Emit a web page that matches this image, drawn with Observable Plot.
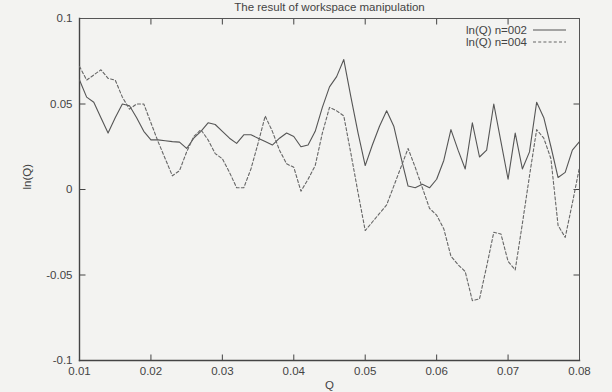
<!DOCTYPE html>
<html>
<head>
<meta charset="utf-8">
<script src="https://cdn.jsdelivr.net/npm/d3@7"></script>
<script src="https://cdn.jsdelivr.net/npm/@observablehq/plot@0.6"></script>
<style>
  html, body { margin: 0; padding: 0; background: #f3f3f1; overflow: hidden; }
  #wrap { position: relative; width: 612px; height: 392px; font-family: "Liberation Sans", Arial, sans-serif; }
  #legend { position: absolute; left: 0; top: 0; width: 612px; height: 60px; pointer-events: none; }
</style>
</head>
<body>
<div id="wrap"></div>
<script>
const title = "The result of workspace manipulation";
const xLabel = "Q";
const yLabel = "ln(Q)";
const seriesNames = ["ln(Q) n=002", "ln(Q) n=004"];

const Q = [0.010,0.011,0.012,0.013,0.014,0.015,0.016,0.017,0.018,0.019,
           0.020,0.021,0.022,0.023,0.024,0.025,0.026,0.027,0.028,0.029,
           0.030,0.031,0.032,0.033,0.034,0.035,0.036,0.037,0.038,0.039,
           0.040,0.041,0.042,0.043,0.044,0.045,0.046,0.047,0.048,0.049,
           0.050,0.051,0.052,0.053,0.054,0.055,0.056,0.057,0.058,0.059,
           0.060,0.061,0.062,0.063,0.064,0.065,0.066,0.067,0.068,0.069,
           0.070,0.071,0.072,0.073,0.074,0.075,0.076,0.077,0.078,0.079,0.080];

const n002 = [0.064,0.054,0.051,0.042,0.033,0.042,0.050,0.049,0.042,0.034,
              0.029,0.029,0.0285,0.028,0.0277,0.024,0.030,0.034,0.039,0.038,
              0.034,0.030,0.027,0.032,0.032,0.030,0.028,0.026,0.030,0.033,
              0.031,0.025,0.026,0.034,0.048,0.060,0.066,0.076,0.054,0.033,
              0.014,0.026,0.037,0.046,0.037,0.019,0.002,0.001,0.003,0.001,
              0.006,0.017,0.035,0.023,0.012,0.039,0.019,0.023,0.050,0.028,
              0.006,0.033,0.012,0.022,0.051,0.042,0.025,0.007,0.010,0.023,0.028];

const n004 = [0.072,0.064,0.067,0.070,0.065,0.064,0.054,0.047,0.050,0.050,
              0.039,0.028,0.018,0.008,0.011,0.022,0.031,0.035,0.029,0.021,
              0.018,0.010,0.001,0.001,0.012,0.027,0.043,0.034,0.023,0.015,
              0.013,-0.001,0.006,0.014,0.033,0.048,0.046,0.043,0.021,-0.002,
              -0.024,-0.019,-0.014,-0.009,0.002,0.013,0.024,0.013,0.001,-0.011,
              -0.015,-0.023,-0.039,-0.044,-0.048,-0.065,-0.064,-0.045,-0.025,-0.026,
              -0.042,-0.047,-0.020,0.008,0.035,0.030,0.018,-0.021,-0.028,-0.008,0.013];

const xTicks = [0.01,0.02,0.03,0.04,0.05,0.06,0.07,0.08];
const yTicks = [-0.1,-0.05,0,0.05,0.1];

const d002 = Q.map((q,i) => ({q, v: n002[i]}));
const d004 = Q.map((q,i) => ({q, v: n004[i]}));

const W = 612, H = 392;
const mL = 79, mR = 33, mT = 18, mB = 32;
const tk = 6;
const ink = "#444";
const fs = "11.5px";

const innerXTicks = xTicks.slice(1, -1);
const innerYTicks = yTicks.slice(1, -1);

// inward tick glyphs (custom symbols)
const tickSym = (dx, dy) => ({ draw(ctx) { ctx.moveTo(0, 0); ctx.lineTo(dx, dy); } });
const tickUp = tickSym(0, -tk), tickDown = tickSym(0, tk), tickRight = tickSym(tk, 0), tickLeft = tickSym(-tk, 0);

const chart = Plot.plot({
  width: W, height: H,
  marginLeft: mL, marginRight: mR, marginTop: mT, marginBottom: mB,
  style: { background: "transparent", fontFamily: "'Liberation Sans', Arial, sans-serif", fontSize: fs, color: ink, overflow: "visible" },
  x: { domain: [0.01, 0.08] },
  y: { domain: [-0.1, 0.1] },
  marks: [
    Plot.axisX(xTicks, { anchor: "bottom", tickSize: 0, tickPadding: 6, tickFormat: d => d.toString(), label: null, fill: ink, fontSize: fs }),
    Plot.axisY(yTicks, { anchor: "left", tickSize: 0, tickPadding: 7, tickFormat: d => d.toString(), label: null, fill: ink, fontSize: fs }),
    Plot.dot(innerXTicks, { x: d => d, y: -0.1, symbol: tickUp, stroke: ink, fill: "none", strokeWidth: 1 }),
    Plot.dot(innerXTicks, { x: d => d, y: 0.1, symbol: tickDown, stroke: ink, fill: "none", strokeWidth: 1 }),
    Plot.dot(innerYTicks, { x: 0.01, y: d => d, symbol: tickRight, stroke: ink, fill: "none", strokeWidth: 1 }),
    Plot.dot(innerYTicks, { x: 0.08, y: d => d, symbol: tickLeft, stroke: ink, fill: "none", strokeWidth: 1 }),
    Plot.frame({ stroke: "#555", strokeWidth: 1 }),
    Plot.frame({ anchor: "left", stroke: "#444", strokeWidth: 1.4 }),
    Plot.frame({ anchor: "bottom", stroke: "#444", strokeWidth: 1.4 }),
    Plot.line(d002, { x: "q", y: "v", stroke: "#555", strokeWidth: 1.1 }),
    Plot.line(d004, { x: "q", y: "v", stroke: "#666", strokeWidth: 1.1, strokeDasharray: "3,2.2" }),
    Plot.text([title], { text: d => d, frameAnchor: "top", lineAnchor: "bottom", dy: -8, fill: ink, fontSize: fs }),
    Plot.text([xLabel], { text: d => d, frameAnchor: "bottom", dy: 28, fill: ink, fontSize: fs }),
    Plot.text([yLabel], { text: d => d, frameAnchor: "left", dx: -52, rotate: -90, fill: ink, fontSize: fs })
  ]
});

const wrap = document.getElementById("wrap");
wrap.appendChild(chart);

// legend overlay
const ns = "http://www.w3.org/2000/svg";
const leg = document.createElementNS(ns, "svg");
leg.setAttribute("id", "legend");
leg.setAttribute("width", W);
leg.setAttribute("height", 60);
const styles = [{ dash: null, stroke: "#555" }, { dash: "3,2.2", stroke: "#666" }];
seriesNames.forEach((name, i) => {
  const cy = 30 + i * 12;
  const t = document.createElementNS(ns, "text");
  t.setAttribute("x", 527);
  t.setAttribute("y", cy);
  t.setAttribute("text-anchor", "end");
  t.setAttribute("dominant-baseline", "central");
  t.setAttribute("font-family", "'Liberation Sans', Arial, sans-serif");
  t.setAttribute("font-size", fs);
  t.setAttribute("fill", ink);
  t.textContent = name;
  leg.appendChild(t);
  const l = document.createElementNS(ns, "line");
  l.setAttribute("x1", 533); l.setAttribute("x2", 566);
  l.setAttribute("y1", cy); l.setAttribute("y2", cy);
  l.setAttribute("stroke", styles[i].stroke);
  l.setAttribute("stroke-width", 1.1);
  if (styles[i].dash) l.setAttribute("stroke-dasharray", styles[i].dash);
  leg.appendChild(l);
});
wrap.appendChild(leg);
</script>
</body>
</html>
